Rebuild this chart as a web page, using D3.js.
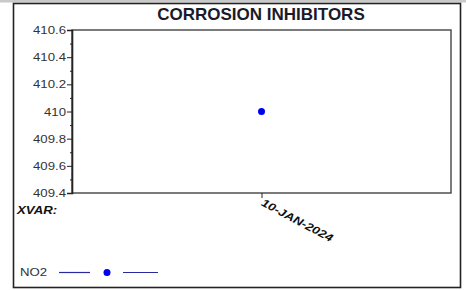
<!DOCTYPE html>
<html>
<head>
<meta charset="utf-8">
<script src="https://cdn.jsdelivr.net/npm/d3@7"></script>
<style>
  body { margin: 0; background: #fff; }
  text { font-family: "Liberation Sans", Arial, sans-serif; }
</style>
</head>
<body>
<svg id="chart" width="466" height="290"></svg>
<script>
var svg = d3.select("#chart");

// chart data
var title = "CORROSION INHIBITORS";
var dates = ["10-JAN-2024"];
var no2Values = [410];
var seriesName = "NO2";
var yTicks = [409.4, 409.6, 409.8, 410, 410.2, 410.4, 410.6];
var yMinorTicks = [409.5, 409.7, 409.9, 410.1, 410.3, 410.5];

// plot box
var plotLeft = 72, plotRight = 451, plotTop = 30, plotBottom = 193;

// the original text looks stretched sideways a bit
function widen(sel, factor) {
  sel.each(function () {
    var w = this.getComputedTextLength();
    d3.select(this).attr("textLength", w * factor).attr("lengthAdjust", "spacingAndGlyphs");
  });
}

// gray strip on top + outer frame
svg.append("rect").attr("x", 0).attr("y", 0).attr("width", 466).attr("height", 2.5).attr("fill", "#c9c9c9");
svg.append("rect")
  .attr("x", 13.5).attr("y", 3.5).attr("width", 447).attr("height", 284)
  .attr("fill", "#fff").attr("stroke", "#222").attr("stroke-width", 1.6);

svg.append("text")
  .attr("x", 261).attr("y", 20)
  .attr("text-anchor", "middle")
  .style("font-size", "17px").style("font-weight", "bold").attr("fill", "#1a1a2a")
  .text(title);

var xScale = d3.scalePoint().domain(dates).range([plotLeft, plotRight]).padding(0.5);
var yScale = d3.scaleLinear().domain([409.4, 410.6]).range([plotBottom, plotTop]);

// plot frame
svg.append("rect")
  .attr("x", plotLeft).attr("y", plotTop).attr("width", plotRight - plotLeft).attr("height", plotBottom - plotTop)
  .attr("fill", "none").attr("stroke", "#444").attr("stroke-width", 1.4);

// y axis, major ticks with labels
var yAxis = d3.axisLeft(yScale).tickValues(yTicks).tickSize(5).tickFormat(d3.format("~g"));
var gy = svg.append("g").attr("transform", "translate(" + plotLeft + ",0)").call(yAxis);
gy.select(".domain").attr("stroke", "#222").attr("stroke-width", 1.6);
gy.selectAll(".tick line").attr("stroke", "#222");
gy.selectAll(".tick text")
  .attr("x", -6).attr("fill", "#333")
  .style("font-size", "11px").style("font-family", "Liberation Sans, Arial, sans-serif")
  .call(widen, 1.2);

// minor ticks
var gyMinor = svg.append("g").attr("transform", "translate(" + plotLeft + ",0)")
  .call(d3.axisLeft(yScale).tickValues(yMinorTicks).tickSize(2).tickFormat(""));
gyMinor.select(".domain").remove();
gyMinor.selectAll(".tick line").attr("stroke", "#222");

// x axis tick and rotated label
var gx = svg.append("g").attr("transform", "translate(0," + plotBottom + ")")
  .call(d3.axisBottom(xScale).tickSize(5).tickFormat(""));
gx.select(".domain").remove();
gx.selectAll(".tick line").attr("stroke", "#222");

dates.forEach(function (d) {
  svg.append("text")
    .attr("transform", "translate(" + (xScale(d) - 1) + "," + (plotBottom + 12) + ")rotate(28)")
    .style("font-size", "11px").style("font-weight", "bold").style("font-style", "italic")
    .attr("fill", "#111")
    .text(d)
    .call(widen, 1.2);
});

svg.append("text")
  .attr("x", 17).attr("y", 214)
  .style("font-size", "11px").style("font-weight", "bold").style("font-style", "italic")
  .attr("fill", "#111")
  .text("XVAR:")
  .call(widen, 1.2);

// points
dates.forEach(function (d, i) {
  svg.append("circle")
    .attr("cx", xScale(d)).attr("cy", yScale(no2Values[i]))
    .attr("r", 3.5).attr("fill", "#0000ee");
});

// legend
svg.append("text").attr("x", 20).attr("y", 276)
  .style("font-size", "11px").attr("fill", "#333").text(seriesName)
  .call(widen, 1.2);
svg.append("line").attr("x1", 59).attr("x2", 90).attr("y1", 272.5).attr("y2", 272.5)
  .attr("stroke", "#2a2aa0").attr("stroke-width", 1.2);
svg.append("line").attr("x1", 123).attr("x2", 158).attr("y1", 272.5).attr("y2", 272.5)
  .attr("stroke", "#2a2aa0").attr("stroke-width", 1.2);
svg.append("circle").attr("cx", 107).attr("cy", 272.5).attr("r", 3.5).attr("fill", "#0000ee");
</script>
</body>
</html>
